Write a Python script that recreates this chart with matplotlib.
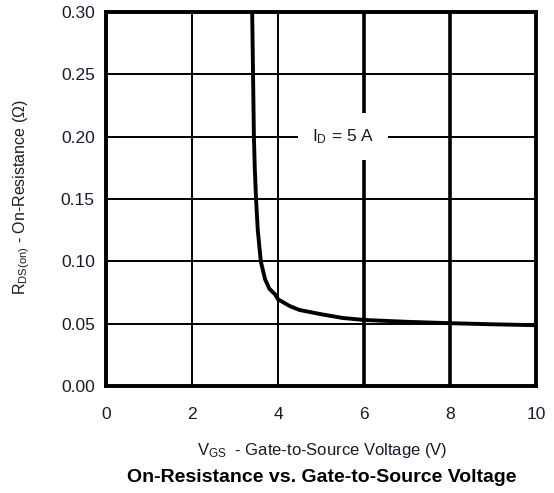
import matplotlib
matplotlib.use("Agg")
import matplotlib.pyplot as plt

plt.rcParams['font.family'] = ['Liberation Sans', 'DejaVu Sans']
plt.rcParams['mathtext.default'] = 'regular'

vgs = [3.40, 3.42, 3.44, 3.46, 3.49, 3.53, 3.60, 3.70, 3.80, 3.93, 4.00, 4.28, 4.50,
       5.00, 5.50, 6.00, 7.00, 8.00, 9.00, 10.0]
rds = [0.300, 0.250, 0.200, 0.175, 0.150, 0.125, 0.100, 0.0856, 0.078, 0.0736, 0.0696,
       0.064, 0.061, 0.0576, 0.0546, 0.053, 0.0515, 0.0504, 0.0495, 0.0488]

x_ticks = [0, 2, 4, 6, 8, 10]
y_ticks = [0.00, 0.05, 0.10, 0.15, 0.20, 0.25, 0.30]
y_tick_labels = ["0.00", "0.05", "0.10", "0.15", "0.20", "0.25", "0.30"]

fig = plt.figure(figsize=(5.54, 4.93), dpi=100)
ax = fig.add_axes([0.1913, 0.217, 0.7762, 0.7586])

ax.set_xlim(0, 10)
ax.set_ylim(0, 0.30)
ax.set_xticks(x_ticks)
ax.set_xticklabels([str(t) for t in x_ticks])
ax.set_yticks(y_ticks)
ax.set_yticklabels(y_tick_labels)
ax.tick_params(length=0, labelsize=12.5, colors='#1a1a2a')
ax.tick_params(axis='x', pad=15)
ax.tick_params(axis='y', pad=8)

# grid
for yv in y_ticks[1:-1]:
    ax.axhline(yv, color='black', lw=1.4, zorder=1)
for xv in [2, 4]:
    ax.axvline(xv, color='black', lw=1.4, zorder=1)
for xv in [6, 8]:
    ax.axvline(xv, color='black', lw=2.6, zorder=1)

for s in ax.spines.values():
    s.set_linewidth(2.8)
    s.set_color('black')

ax.plot(vgs, rds, color='black', lw=2.8, zorder=3, solid_capstyle='butt')

ax.text(5.51, 0.20, r'I$_{D}$ = 5 A', ha='center', va='center', fontsize=12.5,
        color='#1a1a2a', zorder=4,
        bbox=dict(facecolor='white', edgecolor='none', boxstyle='square,pad=0.8'))

fig.text(0.582, 0.087, r'V$_{GS}$  - Gate-to-Source Voltage (V)', ha='center', va='center',
         fontsize=12, color='#1a1a2a')
fig.text(0.580, 0.032, 'On-Resistance vs. Gate-to-Source Voltage', ha='center', va='center',
         fontsize=14, fontweight='bold', color='black')
fig.text(0.040, 0.600, r'R$_{DS(on)}$ - On-Resistance (Ω)', ha='center', va='center',
         rotation=90, fontsize=11.5, color='#1a1a2a')

fig.savefig('out.png', dpi=100)
